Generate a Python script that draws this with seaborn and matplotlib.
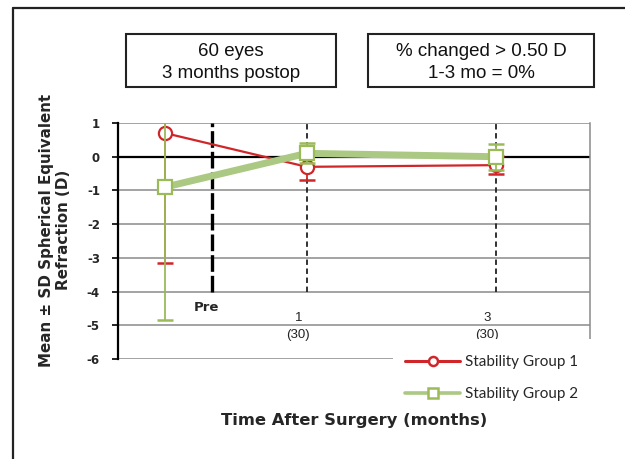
import matplotlib
matplotlib.use("Agg")
import matplotlib.pyplot as plt
from matplotlib.lines import Line2D
from matplotlib.patches import Rectangle
import seaborn as sns
import pandas as pd

# Time points (months after surgery; preoperative value sits left of 0)
time_labels = ["Pre", "1", "3"]
time_months = [-0.5, 1, 3]
eyes_per_visit = [None, 30, 30]

# Mean and SD of spherical equivalent refraction (D)
group1_mean = [0.70, -0.30, -0.25]
group1_sd = [3.85, 0.38, 0.26]
group2_mean = [-0.90, 0.10, 0.00]
group2_sd = [3.95, 0.30, 0.38]

group_names = ["Stability Group 1", "Stability Group 2"]
y_ticks = [1, 0, -1, -2, -3, -4, -5, -6]

df = pd.DataFrame({
    "time": time_months * 2,
    "mean": group1_mean + group2_mean,
    "sd": group1_sd + group2_sd,
    "group": [group_names[0]] * 3 + [group_names[1]] * 3,
})

sns.set_theme(style="white")
plt.rcParams["font.family"] = ["DejaVu Sans"]

RED = "#d0262a"
GREEN_LINE = "#abc983"
GREEN = "#9bbb59"

W, H = 625, 459
fig = plt.figure(figsize=(W / 100, H / 100), dpi=100)
fig.patch.set_facecolor("white")


def fx(px):
    return px / W


def fy(py):
    return 1 - py / H


ax = fig.add_axes([fx(118), fy(359), fx(590) - fx(118), fy(123) - fy(359)])

# horizontal grid
for v in y_ticks:
    if v == 0:
        ax.axhline(v, color="black", lw=1.6, zorder=1)
    else:
        ax.axhline(v, color="#8a8a8a", lw=1.1, zorder=1)

# vertical marker lines
ax.plot([0, 0], [-4, 1], color="black", lw=2.4, ls=(0, (5, 1.2)), zorder=2)
for m in time_months[1:]:
    ax.plot([m, m], [-4, 1], color="#222222", lw=1.3, ls=(0, (3, 2)), zorder=2)

styles = {
    group_names[0]: dict(color=RED, lw=1.6, marker="o", ecolor=RED, z=4),
    group_names[1]: dict(color=GREEN_LINE, lw=5.0, marker="s", ecolor=GREEN, z=5),
}
marker_edge = {group_names[0]: RED, group_names[1]: GREEN}

for g in group_names:
    sub = df[df["group"] == g]
    st = styles[g]
    ax.errorbar(sub["time"], sub["mean"], yerr=sub["sd"], fmt="none",
                ecolor=st["ecolor"], elinewidth=1.3, capsize=6, capthick=1.8,
                zorder=st["z"], clip_on=True)
    sns.lineplot(data=sub, x="time", y="mean", ax=ax, color=st["color"],
                 lw=st["lw"], marker=st["marker"], markersize=9.5,
                 markerfacecolor="white", markeredgecolor=marker_edge[g],
                 markeredgewidth=1.6, zorder=st["z"], legend=False,
                 estimator=None, sort=False)

ax.set_xlim(-1, 4)
ax.set_ylim(-6, 1)
for sp in ["top", "bottom"]:
    ax.spines[sp].set_visible(False)
ax.spines["left"].set_color("black")
ax.spines["left"].set_linewidth(1.6)
ax.spines["right"].set_color("#8a8a8a")
ax.spines["right"].set_linewidth(1.1)

ax.set_yticks(y_ticks)
ax.set_yticklabels([str(v) for v in y_ticks], fontweight="bold", fontsize=8.5)
ax.tick_params(axis="y", left=True, length=4, width=1.2, color="black", pad=9)
ax.set_xticks([])
ax.set_xlabel("")
ax.set_ylabel("")

# time labels inside the plot
ax.text(-0.06, -4.46, time_labels[0], ha="center", va="center",
        fontweight="bold", fontsize=9.5)
for m, lab, n in zip(time_months[1:], time_labels[1:], eyes_per_visit[1:]):
    ax.text(m - 0.09, -4.79, lab, ha="center", va="center", fontsize=9.5,
            family="Liberation Sans", color="#222222")
    ax.text(m - 0.09, -5.29, f"({n})", ha="center", va="center", fontsize=9.5,
            family="Liberation Sans", color="#222222")

# white panel holding the legend
fig.patches.append(Rectangle((fx(393), fy(414)), fx(622) - fx(393), fy(339) - fy(414),
                             transform=fig.transFigure, facecolor="white",
                             edgecolor="none", zorder=3))
handles = [
    Line2D([], [], color=RED, lw=2.2, marker="o", markersize=6.5,
           markerfacecolor="white", markeredgecolor=RED, markeredgewidth=1.8),
    Line2D([], [], color=GREEN_LINE, lw=2.6, marker="s", markersize=6.5,
           markerfacecolor="white", markeredgecolor=GREEN, markeredgewidth=1.8),
]
leg = fig.legend(handles, group_names, loc="upper left",
                 bbox_to_anchor=(fx(405), fy(355)), frameon=False,
                 prop={"family": "Lato", "size": 11}, handlelength=3.6,
                 handletextpad=0.3, labelspacing=1.2, borderaxespad=0,
                 borderpad=0)
leg.set_zorder(4)

# axis titles
fig.text(fx(55), fy(230), "Mean \u00b1 SD Spherical Equivalent\nRefraction (D)",
         rotation=90, ha="center", va="center", fontweight="bold",
         fontsize=10.9, multialignment="center", linespacing=1.1)
fig.text(fx(354), fy(420), "Time After Surgery (months)", ha="center",
         va="center", fontweight="bold", fontsize=11.8)

# annotation boxes
boxes = [
    ((126, 34, 336, 87), ["60 eyes", "3 months postop"]),
    ((368, 34, 594, 87), ["% changed > 0.50 D", "1-3 mo = 0%"]),
]
for (x0, y0, x1, y1), lines in boxes:
    fig.patches.append(Rectangle((fx(x0), fy(y1)), fx(x1) - fx(x0), fy(y0) - fy(y1),
                                 transform=fig.transFigure, facecolor="white",
                                 edgecolor="#222222", lw=1.5, zorder=3))
    cx = fx((x0 + x1) / 2)
    fig.text(cx, fy(52), lines[0], ha="center", va="center", fontsize=13.5,
             family="Liberation Sans", color="#111111", zorder=5)
    fig.text(cx, fy(73), lines[1], ha="center", va="center", fontsize=13.5,
             family="Liberation Sans", color="#111111", zorder=5)

# outer frame (left and top edges)
fig.add_artist(Line2D([fx(13), fx(13)], [fy(8), 0], transform=fig.transFigure,
                      color="#222222", lw=1.6))
fig.add_artist(Line2D([fx(13), 1], [fy(8), fy(8)], transform=fig.transFigure,
                      color="#222222", lw=1.6))

fig.savefig("out.png", dpi=100, facecolor="white")
